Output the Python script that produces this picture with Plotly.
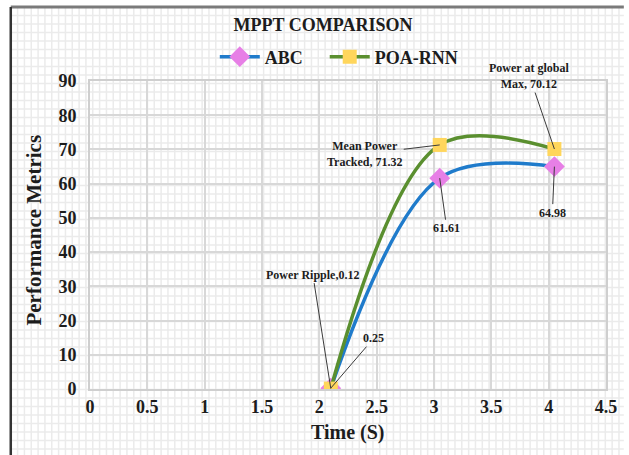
import plotly.graph_objects as go

# ---- data ----
time_s = [2.1, 3.05, 4.05]
abc = [0.25, 61.61, 64.98]
poa_rnn = [0.12, 71.32, 70.12]
poa_metric_names = ["Power Ripple", "Mean Power<br>Tracked", "Power at global<br>Max"]

x_ticks = [0, 0.5, 1, 1.5, 2, 2.5, 3, 3.5, 4, 4.5]
x_tick_text = ["0", "0.5", "1", "1.5", "2", "2.5", "3", "3.5", "4", "4.5"]
y_ticks = [0, 10, 20, 30, 40, 50, 60, 70, 80, 90]
y_tick_text = [str(v) for v in y_ticks]

# ---- style ----
W, H = 629, 455
L, R, T, B = 90, 18, 81, 66
SERIF = "Liberation Serif, Times New Roman, serif"
BLUE = "#1f7bcb"
GREEN = "#5a8f2f"
PINK = "#e77fe6"
YELLOW = "#ffd65c"
INK = "#1c1c1c"

pw, ph = W - L - R, H - T - B


def px_to_paper(px, py):
    return (px - L) / pw, (H - B - py) / ph


fig = go.Figure()

fig.add_trace(go.Scatter(
    x=time_s, y=abc, name="ABC", mode="lines+markers", legend="legend",
    line=dict(color=BLUE, width=3.5, shape="spline", smoothing=1.0),
    marker=dict(symbol="diamond", size=16, color=PINK),
))
fig.add_trace(go.Scatter(
    x=time_s, y=poa_rnn, name="POA-RNN", mode="lines+markers", legend="legend2",
    line=dict(color=GREEN, width=3.5, shape="spline", smoothing=1.0),
    marker=dict(symbol="square", size=14, color=YELLOW),
))

# graph-paper background: one path of fine lines over the whole page
path = []
x = 10.0
while x < W:
    x0, y0 = px_to_paper(x, 7)
    x1, y1 = px_to_paper(x, H)
    path.append(f"M{x0:.5f},{y0:.5f}L{x1:.5f},{y1:.5f}")
    x += 6.9
y = 7.0
while y < H:
    x0, y0 = px_to_paper(10, y)
    x1, y1 = px_to_paper(W, y)
    path.append(f"M{x0:.5f},{y0:.5f}L{x1:.5f},{y1:.5f}")
    y += 8.5
shapes = [dict(type="path", path="".join(path), xref="paper", yref="paper",
               line=dict(color="#ebebeb", width=1.5), layer="below")]

# page frame (left and top edges)
fx0, fy0 = px_to_paper(10, 7)
fx1, _ = px_to_paper(W, 7)
_, fyb = px_to_paper(10, H)
shapes.append(dict(type="line", xref="paper", yref="paper", x0=fx0, y0=fy0, x1=fx1, y1=fy0,
                   line=dict(color="#7a7a7a", width=3)))
shapes.append(dict(type="line", xref="paper", yref="paper", x0=fx0, y0=fy0, x1=fx0, y1=fyb,
                   line=dict(color="#333333", width=2.5)))

# data labels with leader lines
ann_font = dict(family=SERIF, size=12, color=INK, weight="bold")
labels = [
    (time_s[0], poa_rnn[0], f"{poa_metric_names[0]},{poa_rnn[0]}", -18, -114),
    (time_s[0], abc[0], f"{abc[0]}", 43, -50),
    (time_s[1], poa_rnn[1], f"{poa_metric_names[1]}, {poa_rnn[1]}", -75, 9),
    (time_s[1], abc[1], f"{abc[1]}", 7, 50),
    (time_s[2], poa_rnn[2], f"{poa_metric_names[2]}, {poa_rnn[2]}", -25, -73),
    (time_s[2], abc[2], f"{abc[2]}", -2, 46),
]
annotations = []
for lx, ly, txt, ax, ay in labels:
    annotations.append(dict(
        x=lx, y=ly, xref="x", yref="y", text=txt, showarrow=True,
        arrowhead=0, arrowwidth=1, arrowcolor="#3a3a3a", ax=ax, ay=ay,
        font=ann_font, align="center", standoff=0,
    ))

# axis titles
tx, ty = px_to_paper(350, 432)
annotations.append(dict(x=tx, y=ty, xref="paper", yref="paper", text="Time (S)",
                        showarrow=False, xanchor="center", yanchor="middle",
                        font=dict(family=SERIF, size=20, color=INK, weight="bold")))
tx, ty = px_to_paper(33, 230)
annotations.append(dict(x=tx, y=ty, xref="paper", yref="paper", text="Performance Metrics",
                        showarrow=False, xanchor="center", yanchor="middle", textangle=-90,
                        font=dict(family=SERIF, size=21, color=INK, weight="bold")))

legend_font = dict(family=SERIF, size=18, color=INK, weight="bold")
l1x, l1y = px_to_paper(216, 57)
l2x, l2y = px_to_paper(327, 57)

fig.update_layout(
    width=W, height=H,
    margin=dict(l=L, r=R, t=T, b=B),
    paper_bgcolor="white",
    plot_bgcolor="rgba(0,0,0,0)",
    title=dict(text="MPPT COMPARISON", x=323 / W, y=1 - 25 / H,
               xanchor="center", yanchor="middle", xref="container", yref="container",
               font=dict(family=SERIF, size=18, color=INK, weight="bold")),
    legend=dict(orientation="h", x=l1x, y=l1y, xanchor="left", yanchor="middle",
                bgcolor="rgba(0,0,0,0)", font=legend_font, itemwidth=40),
    legend2=dict(orientation="h", x=l2x, y=l2y, xanchor="left", yanchor="middle",
                 bgcolor="rgba(0,0,0,0)", font=legend_font, itemwidth=40),
    showlegend=True,
    shapes=shapes,
    annotations=annotations,
)

fig.update_xaxes(
    range=[0, 4.5], tickvals=x_ticks, ticktext=x_tick_text,
    showgrid=True, gridcolor="#d8d8d8", gridwidth=2,
    showline=True, linecolor="#cfcfcf", linewidth=2, mirror=True,
    zeroline=False, ticks="", ticklabelstandoff=0,
    tickfont=dict(family=SERIF, size=18, color=INK, weight="bold"),
)
fig.update_yaxes(
    range=[0, 90], tickvals=y_ticks, ticktext=y_tick_text,
    showgrid=True, gridcolor="#d8d8d8", gridwidth=2,
    showline=True, linecolor="#cfcfcf", linewidth=2, mirror=True,
    zeroline=False, ticks="", ticklabelstandoff=8,
    tickfont=dict(family=SERIF, size=18, color=INK, weight="bold"),
)

fig.write_html("out.html")
